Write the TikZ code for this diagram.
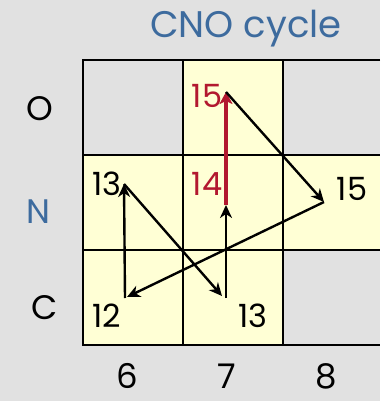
\documentclass[tikz,border=0pt]{standalone}
\usepackage{fontspec}
\setmainfont{Poppins}
\usetikzlibrary{arrows.meta}
\definecolor{bg}{HTML}{E1E1E1}
\definecolor{cell}{HTML}{FFFFD5}
\definecolor{ttl}{HTML}{3D6B9E}
\definecolor{rd}{HTML}{B2182F}
\tikzset{
  gridline/.style={line width=2pt, black},
  flow/.style={line width=2.4pt, black, -{Stealth[length=13pt,width=12pt,inset=4pt]}},
  redflow/.style={line width=4.4pt, rd, -{Stealth[length=12pt,width=13pt,inset=3pt]}},
  axis/.style={anchor=base, inner sep=0pt, font=\fontsize{34}{34}\selectfont},
  num/.style={anchor=base, font=\fontsize{32}{32}\selectfont, inner sep=0pt},
}
\begin{document}
\begin{tikzpicture}[x=1pt,y=-1pt]
\fill[bg] (0,0) rectangle (380,401);
\useasboundingbox (0,0) rectangle (380,401);
% yellow cells
\fill[cell] (183,60) rectangle (283,345);
\fill[cell] (83,155) rectangle (183,345);
\fill[cell] (283,155) rectangle (380,250);
% grid
\draw[gridline] (380,60) -- (83,60) -- (83,345) -- (380,345);
\draw[gridline] (183,60) -- (183,345);
\draw[gridline] (283,60) -- (283,345);
\draw[gridline] (83,155) -- (380,155);
\draw[gridline] (83,250) -- (380,250);
% title and axes
\node[anchor=base, inner sep=0pt, text=ttl, font=\fontsize{37}{37}\selectfont] (title) at (246,38) {CNO cycle};
\node[axis] (lO) at (40,121) {O};
\node[axis, text=ttl] (lN) at (38,223) {N};
\node[axis] (lC) at (45,319) {C};
\node[axis] (z6) at (127,388.5) {6};
\node[axis] (z7) at (227,388.5) {7};
\node[axis] (z8) at (326,388.5) {8};
% isotope labels
\node[num, text=rd] (t15O) at (207,107) {15};
\node[num] (t13N) at (107,195) {13};
\node[num, text=rd] (t14N) at (207,195) {14};
\node[num] (t15N) at (352,200) {15};
\node[num] (t12C) at (107,327) {12};
\node[num] (t13C) at (253,327) {13};
% points
\coordinate (p12) at (125,298);
\coordinate (p12h) at (127,297);
\coordinate (p13a) at (124,184);
\coordinate (p13b) at (222,296);
\coordinate (p13c) at (226,298);
\coordinate (p14) at (226,205);
\coordinate (p15a) at (226,92);
\coordinate (p15b) at (324,202);
% arrows
\draw[flow] (p12) -- (p13a);
\draw[flow] (p13a) -- (p13b);
\draw[flow] (p13c) -- (p14);
\draw[redflow] (p14) -- (p15a);
\draw[flow] (p15a) -- (p15b);
\draw[flow] (p15b) -- (p12h);
\end{tikzpicture}
\end{document}
